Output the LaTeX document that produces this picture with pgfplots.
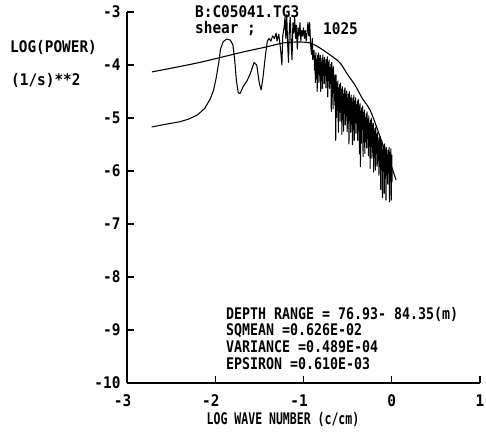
\documentclass[border=0pt]{standalone}
\usepackage{fontspec}
\setmainfont[FakeStretch=0.9,UprightFont=* Bold]{DejaVu Sans Mono}
\newfontfamily\narrowfont[FakeStretch=0.83,UprightFont=* Bold]{DejaVu Sans Mono}
\newfontfamily\xlabfont[FakeStretch=0.72,UprightFont=* Bold]{DejaVu Sans Mono}
\usepackage{pgfplots}
\pgfplotsset{compat=1.18}
\pgfplotstableread{
x y
-2.72 -5.17
-2.60 -5.13
-2.50 -5.10
-2.40 -5.07
-2.30 -5.02
-2.20 -4.94
-2.12 -4.82
-2.06 -4.65
-2.02 -4.48
-1.99 -4.25
-1.96 -3.95
-1.94 -3.70
-1.91 -3.56
-1.87 -3.51
-1.83 -3.53
-1.80 -3.62
-1.78 -3.90
-1.76 -4.30
-1.74 -4.52
-1.72 -4.54
-1.70 -4.47
-1.685 -4.41
-1.64 -4.30
-1.60 -4.15
-1.56 -3.95
-1.53 -4.00
-1.50 -4.35
-1.48 -4.47
-1.46 -4.25
-1.43 -3.80
-1.41 -3.55
-1.39 -3.50
-1.37 -3.55
-1.35 -3.45
-1.33 -3.50
-1.31 -3.40
-1.30 -3.55
-1.28 -3.42
-1.26 -3.70
-1.245 -4.00
-1.235 -3.45
-1.22 -3.30
-1.21 -3.10
-1.20 -3.50
-1.19 -3.05
-1.18 -3.60
-1.17 -3.95
-1.16 -3.30
-1.15 -3.10
-1.14 -3.60
-1.13 -3.90
-1.12 -3.20
-1.11 -3.40
-1.10 -3.10
-1.09 -3.50
-1.08 -3.25
-1.07 -3.70
-1.06 -3.30
-1.05 -3.45
-1.04 -3.20
-1.03 -3.55
-1.02 -3.35
-1.01 -3.45
-1.00 -3.30
-0.99 -3.50
-0.98 -3.35
-0.97 -3.55
-0.96 -3.40
-0.95 -3.20
-0.94 -3.45
-0.93 -3.20
-0.92 -3.60
-0.91 -3.80
-0.90 -3.50
-0.895 -3.90
-0.88 -3.72
-0.875 -4.095
-0.87 -3.83
-0.865 -4.33
-0.86 -3.77
-0.855 -4.19
-0.85 -3.90
-0.845 -4.50
-0.84 -3.82
-0.835 -4.17
-0.83 -3.77
-0.825 -4.33
-0.82 -3.88
-0.815 -4.12
-0.81 -3.82
-0.805 -4.50
-0.80 -3.95
-0.795 -4.29
-0.79 -3.87
-0.785 -4.44
-0.78 -3.81
-0.775 -4.19
-0.77 -3.92
-0.765 -4.35
-0.76 -3.855
-0.755 -4.20
-0.75 -3.98
-0.745 -4.43
-0.74 -3.90
-0.735 -4.29
-0.73 -3.845
-0.725 -4.60
-0.72 -3.95
-0.715 -4.26
-0.71 -3.905
-0.705 -4.44
-0.70 -4.05
-0.695 -4.35
-0.69 -3.985
-0.685 -4.875
-0.68 -3.95
-0.675 -4.60
-0.67 -4.075
-0.665 -4.825
-0.66 -4.03
-0.655 -4.50
-0.65 -4.21
-0.645 -4.76
-0.64 -4.185
-0.635 -5.42
-0.63 -4.19
-0.625 -4.99
-0.62 -4.35
-0.615 -4.85
-0.61 -4.30
-0.605 -5.27
-0.60 -4.44
-0.595 -4.84
-0.59 -4.37
-0.585 -5.06
-0.58 -4.34
-0.575 -4.79
-0.57 -4.46
-0.565 -5.31
-0.56 -4.41
-0.555 -5.03
-0.55 -4.55
-0.545 -5.25
-0.54 -4.475
-0.535 -4.915
-0.53 -4.43
-0.525 -5.13
-0.52 -4.545
-0.515 -4.945
-0.51 -4.49
-0.505 -5.26
-0.50 -4.625
-0.495 -5.075
-0.49 -4.55
-0.485 -5.49
-0.48 -4.505
-0.475 -5.055
-0.47 -4.62
-0.465 -5.27
-0.46 -4.565
-0.455 -4.985
-0.45 -4.70
-0.445 -5.50
-0.44 -4.62
-0.435 -5.21
-0.43 -4.57
-0.425 -5.42
-0.42 -4.68
-0.415 -5.08
-0.41 -4.62
-0.405 -5.29
-0.40 -4.75
-0.395 -5.10
-0.39 -4.685
-0.385 -5.425
-0.38 -4.65
-0.375 -5.25
-0.37 -4.775
-0.365 -5.675
-0.36 -4.73
-0.355 -5.92
-0.35 -4.875
-0.345 -5.475
-0.34 -4.81
-0.335 -5.20
-0.33 -4.775
-0.325 -5.725
-0.32 -4.90
-0.315 -5.45
-0.31 -4.85
-0.305 -5.67
-0.30 -4.99
-0.295 -5.34
-0.29 -4.925
-0.285 -5.565
-0.28 -4.885
-0.275 -5.385
-0.27 -5.01
-0.265 -5.71
-0.26 -4.96
-0.255 -5.53
-0.25 -5.10
-0.245 -5.95
-0.24 -5.04
-0.235 -5.53
-0.23 -5.01
-0.225 -5.76
-0.22 -5.14
-0.215 -5.49
-0.21 -5.10
-0.205 -6.02
-0.20 -5.25
-0.195 -5.75
-0.19 -5.195
-0.185 -5.985
-0.18 -5.17
-0.175 -5.67
-0.17 -5.31
-0.165 -5.91
-0.16 -5.275
-0.155 -5.745
-0.15 -5.43
-0.145 -6.08
-0.14 -5.375
-0.135 -5.915
-0.13 -5.35
-0.125 -6.35
-0.12 -5.48
-0.115 -5.93
-0.11 -5.445
-0.105 -6.50
-0.10 -5.60
-0.095 -5.90
-0.09 -5.53
-0.085 -6.42
-0.08 -5.49
-0.075 -6.14
-0.07 -5.61
-0.065 -6.55
-0.06 -5.56
-0.055 -6.03
-0.05 -5.70
-0.045 -6.25
-0.04 -5.61
-0.035 -6.05
-0.03 -5.55
-0.025 -6.58
-0.02 -5.65
-0.015 -6.15
-0.01 -5.58
-0.005 -6.55
0.000 -5.70
0.005 -6.20
}\spectrum
\pgfplotstableread{
x y
-2.717 -4.13
-2.20 -3.96
-1.686 -3.755
-1.425 -3.66
-1.232 -3.585
-1.062 -3.566
-0.926 -3.585
-0.813 -3.68
-0.666 -3.85
-0.586 -3.96
-0.496 -4.19
-0.416 -4.38
-0.337 -4.62
-0.246 -4.85
-0.167 -5.19
-0.099 -5.51
-0.008 -5.89
0.048 -6.17
}\model
\begin{document}
\begin{tikzpicture}
\path[use as bounding box] (0pt,0pt) rectangle (486pt,431pt);
\begin{axis}[
  at={(127pt,48pt)}, anchor=south west,
  scale only axis, width=353pt, height=371pt,
  xmin=-3, xmax=1, ymin=-10, ymax=-3,
  axis x line*=bottom, axis y line*=left,
  axis line style={line width=1.4pt},
  tick align=inside, major tick length=7pt,
  tick style={line width=1.2pt, black},
  xtick={-3,-2,-1,0,1}, xticklabels={\llap{-}3,\llap{-}2,\llap{-}1,0,1},
  ytick={-10,-9,-8,-7,-6,-5,-4,-3}, yticklabels={-10,-9,-8,-7,-6,-5,-4,-3},
  tick label style={font=\fontsize{16}{19}\selectfont},
  xticklabel style={yshift=-8pt},
  yticklabel style={xshift=-3pt},
  clip=false,
]
\addplot[black, line width=1.05pt, line join=round] table[x=x,y=y] {\spectrum};
\addplot[black, line width=1.1pt, smooth] table[x=x,y=y] {\model};
\end{axis}
\begin{scope}[every node/.style={inner sep=0pt, anchor=west, font=\fontsize{16}{19}\selectfont}]
\node at (10pt,384pt) {LOG(POWER)};
\node at (11pt,351pt) {(1/s)**2};
\node at (195pt,419pt) {B:C05041.TG3};
\node at (195pt,402pt) {shear ;};
\node at (323pt,402pt) {1025};
\node[font=\narrowfont\fontsize{16}{19}\selectfont] at (226pt,117pt) {DEPTH RANGE = 76.93- 84.35(m)};
\node[font=\narrowfont\fontsize{16}{19}\selectfont] at (226pt,100pt) {SQMEAN =0.626E-02};
\node[font=\narrowfont\fontsize{16}{19}\selectfont] at (226pt,84pt) {VARIANCE =0.489E-04};
\node[font=\narrowfont\fontsize{16}{19}\selectfont] at (226pt,67pt) {EPSIRON =0.610E-03};
\node[anchor=center, font=\xlabfont\fontsize{16}{19}\selectfont] at (283pt,12pt) {LOG WAVE NUMBER (c/cm)};
\end{scope}
\end{tikzpicture}
\end{document}
